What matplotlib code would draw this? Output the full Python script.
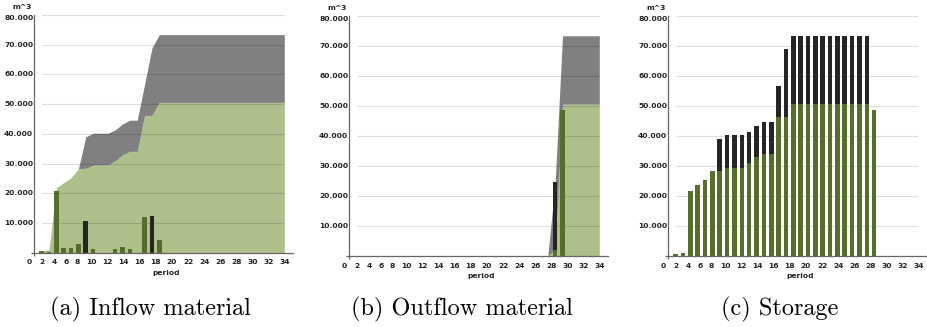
import matplotlib
matplotlib.use("Agg")
import matplotlib.pyplot as plt

# ---------------- data ----------------
PERIODS = list(range(1, 35))

# (a) inflow per period
inflow_green = [700, 300, 20600, 1700, 1600, 3000, 0, 1100, 0, 0, 1100, 1900, 1200, 0,
                12000, 0, 4300, 0, 0, 0, 0, 0, 0, 0, 0, 0, 0, 0, 0, 0, 0, 0, 0, 0]
inflow_black = [0, 0, 0, 0, 0, 0, 10600, 0, 0, 0, 0, 0, 0, 0,
                0, 12200, 0, 0, 0, 0, 0, 0, 0, 0, 0, 0, 0, 0, 0, 0, 0, 0, 0, 0]
# (a) cumulative inflow (areas)
cum_in_green = [700, 1000, 21800, 23600, 25200, 28300, 28400, 29500, 29500, 29500, 30900,
                32900, 34100, 34100, 46200, 46200, 50600, 50600, 50600, 50600, 50600, 50600,
                50600, 50600, 50600, 50600, 50600, 50600, 50600, 50600, 50600, 50600, 50600, 50600]
cum_in_total = [700, 1000, 21800, 23600, 25200, 28300, 39000, 40200, 40200, 40200, 41300,
                43300, 44600, 44600, 56700, 68900, 73400, 73400, 73400, 73400, 73400, 73400,
                73400, 73400, 73400, 73400, 73400, 73400, 73400, 73400, 73400, 73400, 73400, 73400]

# (b) outflow per period
outflow_green = [0] * 27 + [2000, 48700, 0, 0, 0, 0, 0]
outflow_black = [0] * 27 + [22700, 0, 0, 0, 0, 0, 0]
# (b) cumulative outflow (areas)
cum_out_green = [0] * 27 + [2000, 50600, 50600, 50600, 50600, 50600, 50600]
cum_out_total = [0] * 27 + [24700, 73400, 73400, 73400, 73400, 73400, 73400]

# (c) storage
storage_green = [700, 1000, 21800, 23700, 25200, 28300, 28500, 29500, 29500, 29500, 30900,
                 32900, 34100, 34100, 46200, 46200, 50600, 50600, 50600, 50600, 50600, 50600,
                 50600, 50600, 50600, 50600, 50600, 48700, 0, 0, 0, 0, 0, 0]
storage_black = [0, 0, 0, 0, 0, 0, 10500, 10700, 10700, 10700, 10400, 10400, 10500, 10500,
                 10500, 22700, 22800, 22800, 22800, 22800, 22800, 22800, 22800, 22800, 22800,
                 22800, 22800, 0, 0, 0, 0, 0, 0, 0]

Y_TICKS = [10000, 20000, 30000, 40000, 50000, 60000, 70000, 80000]
X_TICK_LABELS = ["0", "2", "4", "6", "8", "10", "12", "14", "16", "18", "20", "22", "24",
                 "26", "28", "30", "32", "34"]
CAPTIONS = ["(a) Inflow material", "(b) Outflow material", "(c) Storage"]

# ---------------- layout / style ----------------
# label positions as laid out by the original chart (in axis units)
X_LABEL_POS = [-0.65, 1.09, 2.72, 4.30, 5.90, 7.75, 9.95, 12.14, 14.34, 16.54, 18.73,
               20.93, 23.13, 25.32, 27.52, 29.72, 31.91, 34.11]

FIG_W, FIG_H = 927, 327
PT = 0.72  # points per pixel at dpi 100
PX_PER_PERIOD = 7.353
XMAX = 35.2

AREA_GREEN = "#adc08a"
AREA_GREY = "#808080"
BAR_GREEN = "#566e2c"
BAR_BLACK = "#252525"
AXIS_COL = "#666666"
LABEL_FONT = dict(family="DejaVu Sans", weight="bold", size=5.4, color="#222222")

fig = plt.figure(figsize=(FIG_W / 100, FIG_H / 100), dpi=100)


def make_axes(x0, y0, top):
    return fig.add_axes([x0 / FIG_W, (FIG_H - y0) / FIG_H,
                         XMAX * PX_PER_PERIOD / FIG_W, (y0 - top) / FIG_H])


def style(ax):
    ax.set_xlim(0, XMAX)
    ax.set_ylim(0, 80000)
    ax.patch.set_alpha(0)
    for s in ["top", "right"]:
        ax.spines[s].set_visible(False)
    for s in ["left", "bottom"]:
        ax.spines[s].set_color(AXIS_COL)
        ax.spines[s].set_linewidth(0.9)
        ax.spines[s].set_zorder(5)
    ax.set_xticks([0])
    ax.set_yticks([0])
    ax.tick_params(length=2.4, width=0.9, color=AXIS_COL, labelbottom=False, labelleft=False)
    ax.hlines(Y_TICKS, 1, 34, colors="black", alpha=0.13, lw=0.8, zorder=2)
    for v in Y_TICKS:
        dy = -3 if v == 80000 else 0
        ax.annotate(f"{v:,}".replace(",", "."), xy=(0, v), xycoords="data",
                    xytext=(-1 * PT, dy * PT), textcoords="offset points",
                    ha="right", va="center", annotation_clip=False, **LABEL_FONT)
    for pos, lab in zip(X_LABEL_POS, X_TICK_LABELS):
        ax.annotate(lab, xy=(pos, 0), xycoords=("data", "axes fraction"),
                    xytext=(0, -9.5 * PT), textcoords="offset points",
                    ha="center", va="center", annotation_clip=False, **LABEL_FONT)
    ax.annotate("period", xy=(17.9, 0), xycoords=("data", "axes fraction"),
                xytext=(0, -20 * PT), textcoords="offset points",
                ha="center", va="center", annotation_clip=False, **LABEL_FONT)
    ax.annotate("m^3", xy=(0, 1), xycoords="axes fraction",
                xytext=(-12 * PT, 8 * PT), textcoords="offset points",
                ha="center", va="center", annotation_clip=False, **LABEL_FONT)


def areas(ax, g, t):
    ax.fill_between(PERIODS, 0, g, color=AREA_GREEN, lw=0, zorder=1)
    ax.fill_between(PERIODS, g, t, color=AREA_GREY, lw=0, zorder=1)


def bars(ax, g, b):
    ax.bar(PERIODS, g, width=0.62, color=BAR_GREEN, lw=0, zorder=3)
    ax.bar(PERIODS, b, bottom=g, width=0.62, color=BAR_BLACK, lw=0, zorder=3)


ax_a = make_axes(34.3, 252.7, 15.0)
areas(ax_a, cum_in_green, cum_in_total)
bars(ax_a, inflow_green, inflow_black)
style(ax_a)

ax_b = make_axes(349.3, 256.0, 16.0)
areas(ax_b, cum_out_green, cum_out_total)
bars(ax_b, outflow_green, outflow_black)
style(ax_b)

ax_c = make_axes(668.3, 256.0, 16.0)
bars(ax_c, storage_green, storage_black)
style(ax_c)

for cx, txt in zip([150, 462, 780], CAPTIONS):
    fig.text(cx / FIG_W, (FIG_H - 315) / FIG_H, txt, family="cmr10", size=17.5,
             ha="center", va="baseline")

fig.savefig("out.png", dpi=100)
